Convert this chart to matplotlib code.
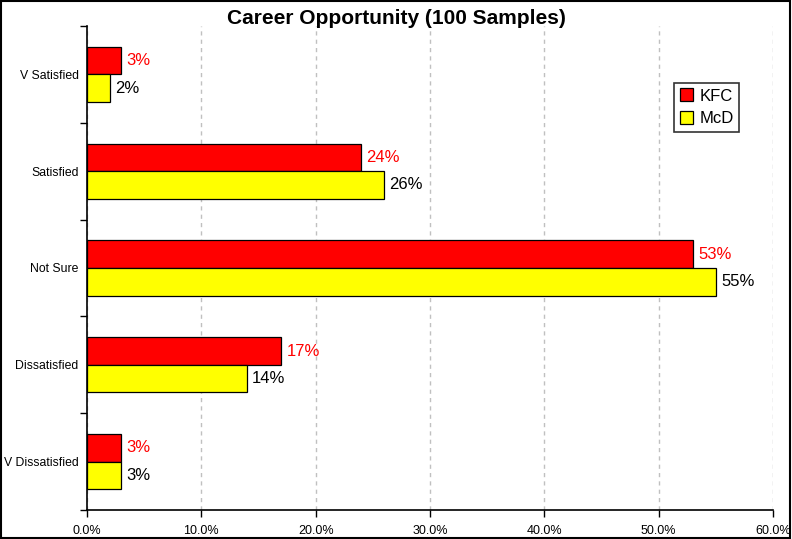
import numpy as np
import matplotlib
matplotlib.use('Agg')
import matplotlib.pyplot as plt
from matplotlib.ticker import FuncFormatter

categories = ['V Satisfied', 'Satisfied', 'Not Sure', 'Dissatisfied', 'V Dissatisfied']
kfc = [3, 24, 53, 17, 3]
mcd = [2, 26, 55, 14, 3]
x_ticks = [0, 10, 20, 30, 40, 50, 60]

plt.rcParams['font.family'] = ['Liberation Sans', 'DejaVu Sans']

fig = plt.figure(figsize=(7.92, 5.39), dpi=100)
ax = fig.add_axes([87 / 792, 29 / 539, 686 / 792, 484 / 539])

# frame around the whole picture
fig.patches.append(plt.Rectangle((0.001, 0.001), 0.997, 0.997, transform=fig.transFigure,
                                 fill=False, edgecolor='black', linewidth=1.5))

n = len(categories)
y = np.arange(n)
h = 0.285

ax.barh(y - h / 2, kfc, height=h, color='#ff0000', edgecolor='black', linewidth=0.9, label='KFC', zorder=3)
ax.barh(y + h / 2, mcd, height=h, color='#ffff00', edgecolor='black', linewidth=0.9, label='McD', zorder=3)

for i in range(n):
    ax.text(kfc[i] + 0.45, y[i] - h / 2, f'{kfc[i]}%', color='#ff0000', fontsize=12, va='center', ha='left')
    ax.text(mcd[i] + 0.45, y[i] + h / 2, f'{mcd[i]}%', color='black', fontsize=12, va='center', ha='left')

ax.set_ylim(n - 0.5, -0.5)
ax.set_xlim(0, 60)
ax.set_yticks(y)
ax.set_yticklabels(categories, fontsize=8.8)
ax.set_yticks(np.arange(-0.5, n, 1), minor=True)
ax.tick_params(axis='y', which='major', length=0, pad=6)
ax.tick_params(axis='y', which='minor', length=5, width=1, direction='out')
ax.set_xticks(x_ticks)
ax.xaxis.set_major_formatter(FuncFormatter(lambda v, p: f'{v:.1f}%'))
ax.tick_params(axis='x', labelsize=9, length=5, width=1, pad=6)

ax.grid(axis='x', color='#c0c0c0', linestyle=(0, (3, 3)), linewidth=1, zorder=0)
for s in ['top', 'right']:
    ax.spines[s].set_visible(False)
for s in ['left', 'bottom']:
    ax.spines[s].set_linewidth(1.2)

fig.text(0.5, 1 - 19 / 539, 'Career Opportunity (100 Samples)', fontsize=15, fontweight='bold',
         ha='center', va='center')

leg = ax.legend(loc='upper left', bbox_to_anchor=(0.856, 0.883), fontsize=12, frameon=True,
                fancybox=False, edgecolor='black', handlelength=0.8, handleheight=0.8,
                handletextpad=0.35, borderpad=0.35, labelspacing=0.45, borderaxespad=0)
leg.get_frame().set_linewidth(1.2)

fig.savefig('out.png', dpi=100)
